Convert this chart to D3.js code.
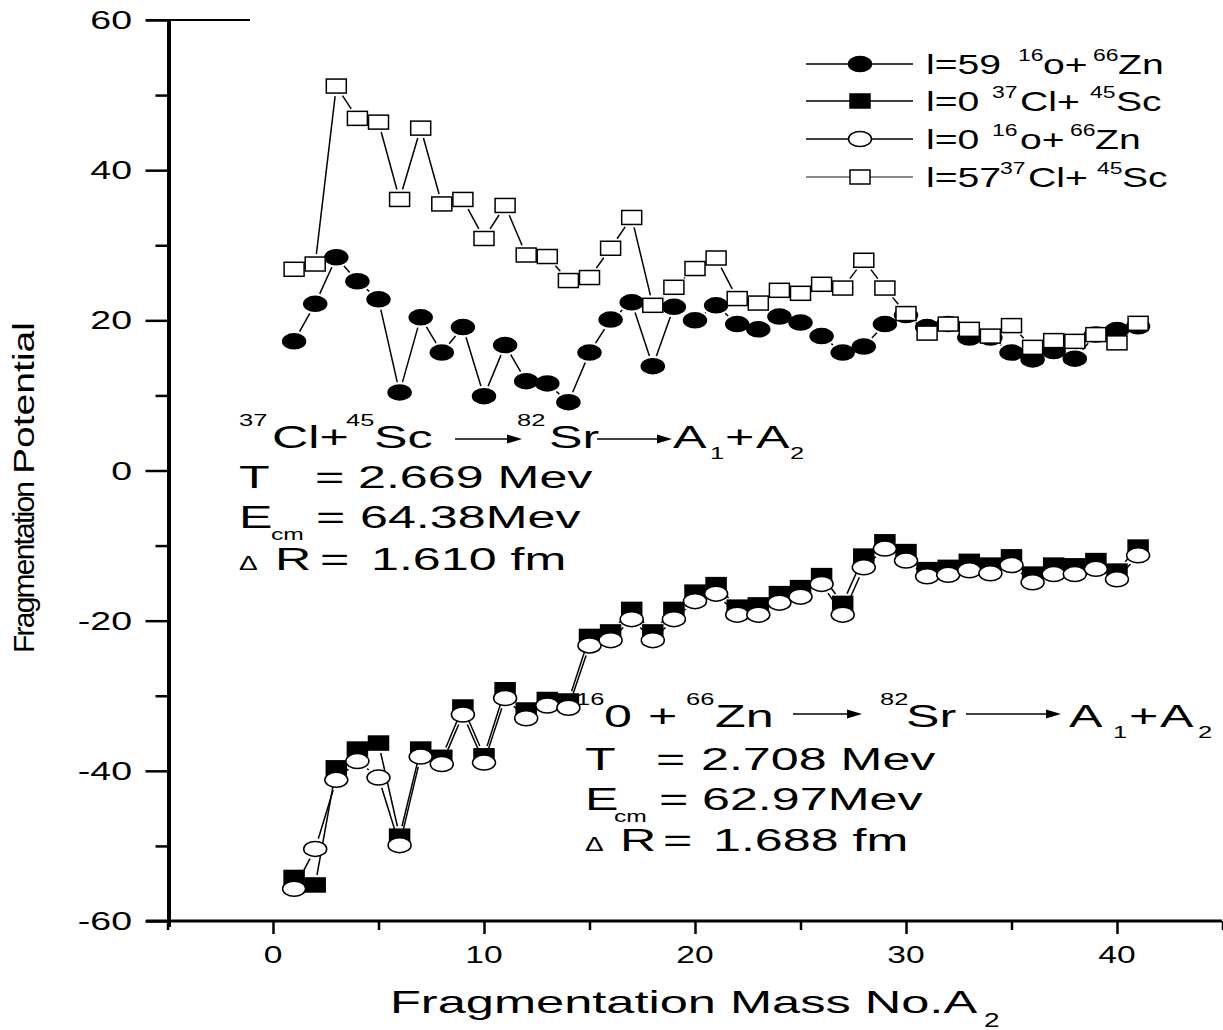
<!DOCTYPE html>
<html><head><meta charset="utf-8">
<script src="https://cdn.jsdelivr.net/npm/d3@7/dist/d3.min.js"></script>
<style>
body{margin:0;background:#fff}
svg{display:block}
text{font-family:"Liberation Sans",Arial,Helvetica,sans-serif;fill:#000}
</style>
</head><body>
<svg id="c" width="1223" height="1030"></svg>
<script>
// ---------- data ----------
const massNo = [1,2,3,4,5,6,7,8,9,10,11,12,13,14,15,16,17,18,19,20,21,22,23,24,25,26,27,28,29,30,31,32,33,34,35,36,37,38,39,40,41];
const l59_OZn = [17.2,22.2,28.4,25.2,22.8,10.4,20.4,15.7,19.1,9.9,16.7,11.9,11.6,9.1,15.7,20.1,22.4,13.9,21.8,20.0,22.0,19.5,18.8,20.5,19.7,17.9,15.7,16.5,19.5,20.7,19.1,19.5,17.7,17.7,15.7,14.8,15.9,14.9,18.1,18.7,19.2];
const l0_ClSc = [-54.2,-55.2,-39.6,-37.1,-36.3,-48.7,-37.1,-38.2,-31.5,-38.0,-29.2,-31.9,-30.5,-30.7,-22.1,-21.5,-18.5,-21.5,-18.5,-16.2,-15.2,-18.2,-17.9,-16.4,-15.6,-14.0,-17.7,-11.4,-9.5,-10.8,-13.2,-12.9,-12.1,-12.6,-11.5,-13.8,-12.6,-12.7,-12.0,-13.4,-10.2];
const l0_OZn = [-55.7,-50.4,-41.2,-38.7,-40.9,-49.9,-38.1,-39.1,-32.5,-38.9,-30.3,-33.0,-31.3,-31.6,-23.3,-22.6,-19.8,-22.6,-19.8,-17.4,-16.4,-19.2,-19.2,-17.6,-16.8,-15.1,-19.2,-12.9,-10.4,-12.0,-14.1,-13.9,-13.3,-13.7,-12.6,-14.9,-13.8,-13.8,-13.1,-14.5,-11.3];
const l57_ClSc = [26.8,27.5,51.2,46.9,46.4,36.1,45.6,35.5,36.1,30.9,35.3,28.7,28.5,25.3,25.7,29.6,33.7,22.0,24.4,26.9,28.3,22.9,22.3,24.0,23.6,24.8,24.3,28.0,24.3,20.9,18.3,19.5,18.8,17.9,19.3,16.4,17.3,17.2,18.1,17.0,19.6];
const xMajor = [0,10,20,30,40];
const xMinor = [-5,5,15,25,35,45];
const yMajor = [-60,-40,-20,0,20,40,60];
const yMinor = [-50,-30,-10,10,30,50];

const series = [
  {vals:l59_OZn, shape:"circle", fill:"#000", leg:[["l=59",""],["16","sup"],["o+",""],["66","sup"],["Zn",""]]},
  {vals:l0_ClSc, shape:"square", fill:"#000", leg:[["l=0",""],["37","sup"],["Cl+",""],["45","sup"],["Sc",""]]},
  {vals:l0_OZn, shape:"circle", fill:"#fff", leg:[["l=0",""],["16","sup"],["o+",""],["66","sup"],["Zn",""]]},
  {vals:l57_ClSc, shape:"square", fill:"#fff", leg:[["l=57",""],["37","sup"],["Cl+",""],["45","sup"],["Sc",""]]}
];

// ---------- setup ----------
const svg = d3.select("#c");
const x = d3.scaleLinear().domain([-5,45]).range([167.5,1222.5]);
const y = d3.scaleLinear().domain([-60,60]).range([921,20]);

function txt(g, px, py, s, size, sx, anchor){
  return g.append("text")
    .attr("transform", `translate(${px},${py}) scale(${sx},1)`)
    .attr("font-size", size)
    .attr("text-anchor", anchor||"start")
    .text(s);
}

// ---------- axes ----------
const ax = svg.append("g").attr("transform",`translate(0,${y(-60)})`);
ax.call(d3.axisBottom(x).tickValues(xMajor).tickSize(13).tickFormat(""));
ax.append("g").call(d3.axisBottom(x).tickValues(xMinor).tickSize(9).tickFormat(""));
ax.selectAll(".domain").remove();
ax.selectAll("line").attr("stroke","#000").attr("stroke-width",2.5);
xMajor.forEach(v => txt(svg, x(v), 963, String(v), 24, 1.4, "middle"));

const ay = svg.append("g").attr("transform",`translate(${x(-5)},0)`);
ay.call(d3.axisLeft(y).tickValues(yMajor).tickSize(22).tickFormat(""));
ay.append("g").call(d3.axisLeft(y).tickValues(yMinor).tickSize(12).tickFormat(""));
ay.selectAll(".domain").remove();
ay.selectAll("line").attr("stroke","#000").attr("stroke-width",2.5);
yMajor.forEach(v => txt(svg, 132, y(v)+9, String(v), 25, 1.5, "end"));

svg.append("line").attr("x1",146).attr("x2",1222).attr("y1",y(-60)).attr("y2",y(-60)).attr("stroke","#000").attr("stroke-width",3);
svg.append("line").attr("x1",169).attr("x2",169).attr("y1",y(60)).attr("y2",y(-60)+6).attr("stroke","#000").attr("stroke-width",4);
svg.append("line").attr("x1",146).attr("x2",250).attr("y1",y(60)).attr("y2",y(60)).attr("stroke","#000").attr("stroke-width",2);

// axis titles
txt(svg, 390, 1013, "Fragmentation Mass No.A", 32, 1.58);
txt(svg, 984, 1027, "2", 20, 1.4);
svg.append("text").attr("transform","translate(34,653) rotate(-90)").attr("font-size",30)
  .attr("textLength",172).attr("lengthAdjust","spacing").text("Fragmentation");
svg.append("text").attr("transform","translate(34,474) rotate(-90)").attr("font-size",30)
  .attr("textLength",152).attr("lengthAdjust","spacingAndGlyphs").text("Potential");

// ---------- data marks ----------
const RX = 11.5, RY = 7.5, SW = 10, SH = 7;
function drawSeries(s){
  const g = svg.append("g");
  const pts = massNo.map((m,i)=>[x(m), y(s.vals[i])]);
  const rx = s.shape==="circle"?RX:SW, ry = s.shape==="circle"?RY:SH;
  for(let i=0;i<pts.length-1;i++){
    const [x0,y0]=pts[i],[x1,y1]=pts[i+1];
    const dx=x1-x0, dy=y1-y0, d=Math.hypot(dx,dy);
    const ux=dx/d, uy=dy/d;
    let r;
    if(s.shape==="circle") r = 1/Math.sqrt((ux/rx)**2+(uy/ry)**2);
    else r = Math.min(Math.abs(ux)>1e-6?rx/Math.abs(ux):1e9, Math.abs(uy)>1e-6?ry/Math.abs(uy):1e9);
    r += 3;
    if(d>2*r){
      g.append("line").attr("x1",x0+ux*r).attr("y1",y0+uy*r).attr("x2",x1-ux*r).attr("y2",y1-uy*r)
        .attr("stroke","#000").attr("stroke-width",1.5);
    }
  }
  pts.forEach(p=>marker(g,p[0],p[1],s));
}
function marker(g,cx,cy,s){
  if(s.shape==="circle"){
    g.append("ellipse").attr("cx",cx).attr("cy",cy).attr("rx",RX).attr("ry",RY)
      .attr("fill",s.fill).attr("stroke","#000").attr("stroke-width",1.5);
  } else {
    g.append("rect").attr("x",cx-SW).attr("y",cy-SH).attr("width",2*SW).attr("height",2*SH)
      .attr("fill",s.fill).attr("stroke","#000").attr("stroke-width",1.5);
  }
}
series.forEach(drawSeries);

// ---------- legend ----------
const legY = [64,101,139,177];
const legPos = [
  [[926,0],[1018,1],[1043,0],[1093,1],[1118,0]],
  [[926,0],[992,1],[1020,0],[1090,1],[1116,0]],
  [[926,0],[992,1],[1020,0],[1070,1],[1095,0]],
  [[926,0],[1000,1],[1028,0],[1097,1],[1122,0]]
];
series.forEach((s,i)=>{
  const cy = legY[i];
  svg.append("line").attr("x1",806).attr("x2",913).attr("y1",cy).attr("y2",cy)
    .attr("stroke", i===3?"#666":"#000").attr("stroke-width",1.5);
  marker(svg,860,cy,s);
  s.leg.forEach((p,j)=>{
    const [px,isSup]=legPos[i][j];
    if(isSup) txt(svg,px,cy-3,p[0],17,1.35);
    else txt(svg,px,cy+10,p[0],27,1.45);
  });
});

// ---------- annotations ----------
function arrow(x1,x2,yy){
  svg.append("line").attr("x1",x1).attr("x2",x2-10).attr("y1",yy).attr("y2",yy).attr("stroke","#000").attr("stroke-width",1.6);
  svg.append("path").attr("d",`M${x2},${yy}L${x2-15},${yy-4.5}L${x2-15},${yy+4.5}Z`).attr("fill","#000");
}
const F=31, SX=1.62, SF=17, SSX=1.5;
// block 1
txt(svg,239,426,"37",SF,SSX); txt(svg,272,448,"Cl+",F,SX); txt(svg,346,426,"45",SF,SSX); txt(svg,374,448,"Sc",F,SX);
arrow(455,522,439);
txt(svg,517,426,"82",SF,SSX); txt(svg,549,448,"Sr",F,SX);
arrow(597,672,439);
txt(svg,673,448,"A",F,SX); txt(svg,710,459,"1",SF,SSX); txt(svg,725,448,"+",F,SX); txt(svg,756,448,"A",F,SX); txt(svg,790,459,"2",SF,SSX);
txt(svg,239,488,"T",F,SX); txt(svg,315,488,"=",F,SX); txt(svg,358,488,"2.669 Mev",F,SX);
txt(svg,239,528,"E",F,SX); txt(svg,271,540,"cm",17,1.45); txt(svg,316,528,"=",F,SX); txt(svg,360,528,"64.38Mev",F,SX);
txt(svg,239,570,"\u0394",20,1.4); txt(svg,275,570,"R",F,SX); txt(svg,320,570,"=",F,SX); txt(svg,371,570,"1.610 fm",F,SX);
// block 2
txt(svg,576,705,"16",SF,SSX); txt(svg,604,727,"0",F,SX); txt(svg,648,727,"+",F,SX); txt(svg,686,705,"66",SF,SSX); txt(svg,715,727,"Zn",F,SX);
arrow(793,862,714);
txt(svg,880,705,"82",SF,SSX); txt(svg,906,727,"Sr",F,SX);
arrow(966,1061,714);
txt(svg,1069,727,"A",F,SX); txt(svg,1113,738,"1",SF,SSX); txt(svg,1129,727,"+",F,SX); txt(svg,1160,727,"A",F,SX); txt(svg,1198,738,"2",SF,SSX);
txt(svg,585,770,"T",F,SX); txt(svg,656,770,"=",F,SX); txt(svg,701,770,"2.708 Mev",F,SX);
txt(svg,585,810,"E",F,SX); txt(svg,614,822,"cm",17,1.45); txt(svg,659,810,"=",F,SX); txt(svg,702,810,"62.97Mev",F,SX);
txt(svg,585,851,"\u0394",20,1.4); txt(svg,620,851,"R",F,SX); txt(svg,663,851,"=",F,SX); txt(svg,713,851,"1.688 fm",F,SX);
</script>
</body></html>
